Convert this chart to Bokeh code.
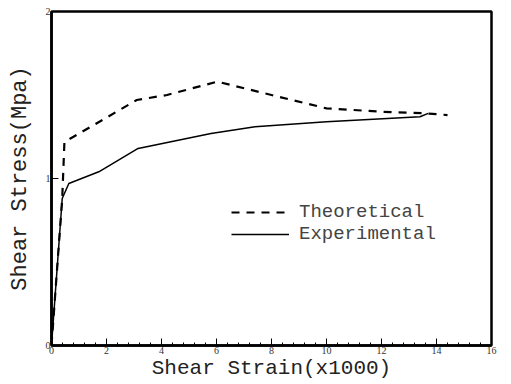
from bokeh.plotting import figure
from bokeh.models import Legend, LegendItem, FixedTicker
from bokeh.embed import file_html
from bokeh.resources import INLINE

theo_x = [0.0, 0.39, 0.47, 0.8, 3.1, 4.2, 6.03, 8.0, 10.0, 12.0, 13.6, 14.4]
theo_y = [0.0, 0.88, 1.22, 1.25, 1.47, 1.50, 1.58, 1.50, 1.42, 1.40, 1.39, 1.38]
exp_x = [0.0, 0.39, 0.63, 1.72, 3.15, 5.8, 7.4, 10.0, 13.4, 13.7]
exp_y = [0.0, 0.88, 0.97, 1.04, 1.18, 1.27, 1.31, 1.34, 1.37, 1.39]

x_ticks = [0, 2, 4, 6, 8, 10, 12, 14, 16]
y_ticks = [0, 1, 2]

FONT = "Liberation Serif"
MONO = "Liberation Mono"

p = figure(width=511, height=384, x_range=(0, 16), y_range=(0, 2),
           output_backend="svg", toolbar_location=None,
           min_border_left=51, min_border_right=20, min_border_top=11, min_border_bottom=39)
p.grid.visible = False
p.outline_line_color = "black"
p.outline_line_width = 2.5

r1 = p.line(theo_x, theo_y, line_color="black", line_width=2.2, line_dash="8 7")
r2 = p.line(exp_x, exp_y, line_color="black", line_width=1.5)

p.xaxis.ticker = FixedTicker(ticks=x_ticks, minor_ticks=[i * 0.4 for i in range(41)])
p.yaxis.ticker = FixedTicker(ticks=y_ticks)
for ax in (p.xaxis, p.yaxis):
    ax.axis_line_width = 2.5
    ax.axis_line_color = "black"
    ax.major_tick_in = 7
    ax.major_tick_out = 0
    ax.minor_tick_in = 3
    ax.minor_tick_out = 0
    ax.major_label_text_font = FONT
    ax.major_label_text_font_size = "10px"
    ax.major_label_text_color = "#333333"
    ax.major_label_standoff = 1
    ax.axis_label_text_font = MONO
    ax.axis_label_text_font_style = "normal"
    ax.axis_label_text_font_size = "22px"
    ax.axis_label_text_color = "#222222"
    ax.axis_label_standoff = 0
p.xaxis.axis_label_text_font_size = "21px"
p.yaxis.minor_tick_in = 0
p.yaxis.axis_label_standoff = 10
p.xaxis.axis_label = "Shear Strain(x1000)"
p.yaxis.axis_label = "Shear Stress(Mpa)"

legend = Legend(items=[LegendItem(label="Theoretical", renderers=[r1]),
                       LegendItem(label="Experimental", renderers=[r2])],
                location=(180, 100), background_fill_alpha=0, border_line_alpha=0,
                glyph_width=58, glyph_height=20, label_text_font=MONO,
                label_text_font_size="19px", padding=0, margin=0, spacing=0,
                label_standoff=10)
p.add_layout(legend)

open("out.html", "w").write(file_html(p, INLINE))
